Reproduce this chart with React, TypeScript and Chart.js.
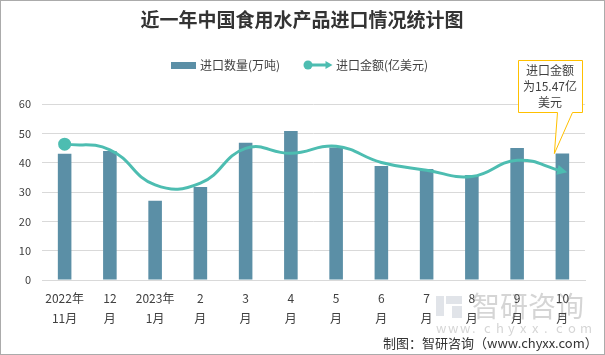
import React, { useEffect, useRef } from "react";
import { Chart, registerables } from "chart.js";

Chart.register(...registerables);

const categories: string[][] = [
  ["2022年", "11月"], ["12", "月"], ["2023年", "1月"], ["2", "月"], ["3", "月"], ["4", "月"],
  ["5", "月"], ["6", "月"], ["7", "月"], ["8", "月"], ["9", "月"], ["10", "月"],
];
const importVolume: number[] = [43, 44, 27, 31.7, 46.8, 50.8, 45.2, 38.9, 37.8, 35.8, 45, 43.1];
const importValue: number[] = [19.3, 18.5, 13.5, 13.75, 18.7, 18.0, 19.0, 16.7, 15.6, 14.7, 17.0, 15.47];
const yTicks: number[] = [0, 10, 20, 30, 40, 50, 60];

const FONT = "'Noto Sans CJK SC', 'Noto Sans', sans-serif";
const BAR = "#5B8FA6";
const LINE = "#4DBDB1";
const TEXT = "#404040";

function drawArrow(ctx: CanvasRenderingContext2D, x: number, y: number, ang: number, len: number, w: number) {
  ctx.save();
  ctx.translate(x, y);
  ctx.rotate(ang);
  ctx.beginPath();
  ctx.moveTo(len * 0.5, 0);
  ctx.lineTo(-len * 0.5, -w / 2);
  ctx.lineTo(-len * 0.5, w / 2);
  ctx.closePath();
  ctx.fill();
  ctx.restore();
}

const decor = {
  id: "decor",
  beforeDraw(chart: any) {
    const ctx = chart.ctx as CanvasRenderingContext2D;
    ctx.save();
    ctx.fillStyle = "#fff";
    ctx.fillRect(0, 0, chart.width, chart.height);
    // watermark
    ctx.fillStyle = "rgba(200,205,215,0.55)";
    ctx.fillRect(436, 296, 8, 20);
    ctx.fillRect(446, 296, 16, 8);
    ctx.fillRect(452, 306, 10, 12);
    ctx.fillStyle = "rgba(150,150,150,0.4)";
    ctx.font = `28px ${FONT}`;
    ctx.textAlign = "left";
    ctx.textBaseline = "middle";
    ctx.fillText("智研咨询", 472, 306);
    ctx.font = `13px ${FONT}`;
    const w = "www.chyxx.com";
    for (let i = 0; i < w.length; i++) {
      ctx.fillText(w[i], 436 + i * 12, 328);
    }
    ctx.restore();
  },
  afterDraw(chart: any) {
    const ctx = chart.ctx as CanvasRenderingContext2D;
    ctx.save();
    // border
    ctx.strokeStyle = "#ababab";
    ctx.lineWidth = 1;
    ctx.strokeRect(0.5, 0.5, chart.width - 1, chart.height - 1);
    // title
    ctx.fillStyle = "#333";
    ctx.font = `bold 19px ${FONT}`;
    ctx.textAlign = "center";
    ctx.textBaseline = "middle";
    ctx.fillText("近一年中国食用水产品进口情况统计图", 302, 20);
    // legend
    ctx.font = `12px ${FONT}`;
    ctx.textAlign = "left";
    ctx.fillStyle = BAR;
    ctx.fillRect(171, 62, 25, 7);
    ctx.fillStyle = TEXT;
    ctx.fillText("进口数量(万吨)", 200, 65);
    ctx.strokeStyle = LINE;
    ctx.fillStyle = LINE;
    ctx.lineWidth = 3;
    ctx.beginPath();
    ctx.moveTo(307, 65);
    ctx.lineTo(327, 65);
    ctx.stroke();
    ctx.beginPath();
    ctx.arc(308, 65, 4.5, 0, Math.PI * 2);
    ctx.fill();
    drawArrow(ctx, 329, 65, 0, 7, 8);
    ctx.fillStyle = TEXT;
    ctx.fillText("进口金额(亿美元)", 336, 65);
    // footer
    ctx.font = `13px ${FONT}`;
    ctx.fillStyle = "#333";
    ctx.fillText("制图：智研咨询（www.chyxx.com）", 383, 343);

    // arrow at end of line
    const lineMeta = chart.getDatasetMeta(1);
    const pts = lineMeta.data;
    const last = pts[pts.length - 1];
    const cp = last.cp1x !== undefined ? { x: last.cp1x, y: last.cp1y } : pts[pts.length - 2];
    const ang = Math.atan2(last.y - cp.y, last.x - cp.x);
    ctx.fillStyle = LINE;
    drawArrow(ctx, last.x, last.y, ang, 10, 10);

    // callout
    const barMeta = chart.getDatasetMeta(0);
    const b = barMeta.data[barMeta.data.length - 1];
    const tipX = b.x - 8;
    const tipY = b.y;
    const bx = 518, by = 60, bw = 64, bh = 52;
    ctx.strokeStyle = "#FFC000";
    ctx.lineWidth = 1;
    ctx.fillStyle = "#fff";
    ctx.beginPath();
    ctx.moveTo(bx + 0.5, by + 0.5);
    ctx.lineTo(bx + bw + 0.5, by + 0.5);
    ctx.lineTo(bx + bw + 0.5, by + bh + 0.5);
    ctx.lineTo(572.5, by + bh + 0.5);
    ctx.lineTo(tipX, tipY);
    ctx.lineTo(557.5, by + bh + 0.5);
    ctx.lineTo(bx + 0.5, by + bh + 0.5);
    ctx.closePath();
    ctx.fill();
    ctx.stroke();
    ctx.fillStyle = TEXT;
    ctx.font = `12px ${FONT}`;
    ctx.textAlign = "center";
    ctx.fillText("进口金额", 550, 70);
    ctx.fillText("为15.47亿", 550, 86);
    ctx.fillText("美元", 550, 102);
    ctx.restore();
  },
};

export default function App() {
  const ref = useRef<HTMLCanvasElement>(null);
  useEffect(() => {
    document.body.style.margin = "0";
    const chart = new Chart(ref.current as HTMLCanvasElement, {
      type: "bar",
      data: {
        labels: categories as any,
        datasets: [
          {
            type: "bar",
            label: "进口数量(万吨)",
            data: importVolume,
            backgroundColor: BAR,
            barPercentage: 0.3,
            categoryPercentage: 1,
            yAxisID: "y",
            order: 2,
          },
          {
            type: "line",
            label: "进口金额(亿美元)",
            data: importValue,
            borderColor: LINE,
            backgroundColor: LINE,
            borderWidth: 3,
            tension: 0.45,
            pointRadius: importValue.map((_, i) => (i === 0 ? 5 : 0)),
            pointHoverRadius: 0,
            yAxisID: "y1",
            order: 1,
          } as any,
        ],
      },
      options: {
        animation: false,
        responsive: false,
        maintainAspectRatio: false,
        layout: { padding: { left: 0, right: 20, top: 104, bottom: 0 } },
        plugins: { legend: { display: false }, title: { display: false }, tooltip: { enabled: false } },
        scales: {
          x: {
            grid: { display: false, drawTicks: false },
            border: { color: "#d9d9d9" },
            ticks: {
              color: TEXT,
              padding: 9,
              maxRotation: 0,
              autoSkip: false,
              font: { size: 12, family: FONT, lineHeight: 1.65 },
            },
            afterFit: (s: any) => { s.height = 75; },
          },
          y: {
            min: 0,
            max: 60,
            afterBuildTicks: (s: any) => { s.ticks = yTicks.map((v) => ({ value: v })); },
            grid: { color: "#d9d9d9", drawTicks: false },
            border: { display: false },
            ticks: { color: TEXT, padding: 11, font: { size: 11, family: FONT } },
            afterFit: (s: any) => { s.width = 42; },
          },
          y1: { display: false, min: 0, max: 25, position: "right" },
        },
      },
      plugins: [decor],
    });
    return () => chart.destroy();
  }, []);
  return <canvas ref={ref} width={605} height={355} style={{ display: "block", width: 605, height: 355 }} />;
}
